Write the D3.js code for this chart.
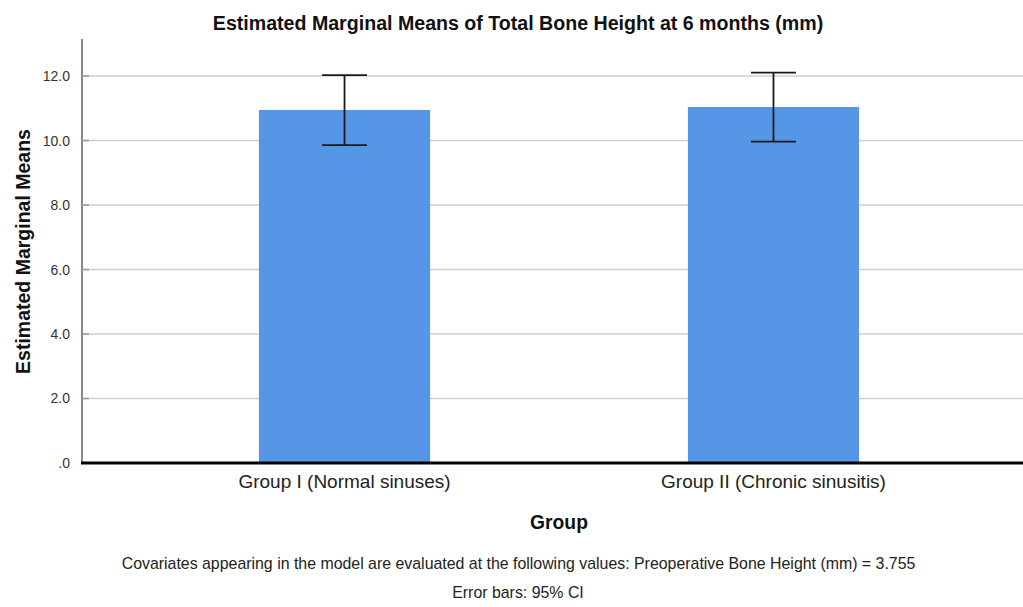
<!DOCTYPE html>
<html><head><meta charset="utf-8">
<script src="https://cdn.jsdelivr.net/npm/d3@7"></script>
<style>body{margin:0;background:#fff;} svg{display:block;font-family:"Liberation Sans",Arial,sans-serif;}</style>
</head><body>
<svg id="chart" width="1023" height="607"></svg>
<script>
const categories = ["Group I (Normal sinuses)", "Group II (Chronic sinusitis)"];
const means = [10.95, 11.04];
const ciLower = [9.86, 9.97];
const ciUpper = [12.03, 12.11];
const yTicks = [0, 2, 4, 6, 8, 10, 12];
const tickLabels = [".0", "2.0", "4.0", "6.0", "8.0", "10.0", "12.0"];

const svg = d3.select("#chart");
const x0 = 82, x1 = 1036, yTop = 39, yBottom = 463;
const y = d3.scaleLinear().domain([0, 13.15]).range([yBottom, yTop]);
const x = d3.scaleBand().domain(categories).range([x0, x1]).paddingInner(0.601).paddingOuter(0.4125);

// gridlines
svg.append("g").selectAll("line").data(yTicks.filter(d => d > 0)).join("line")
  .attr("x1", x0).attr("x2", 1023).attr("y1", d => y(d)).attr("y2", d => y(d))
  .attr("stroke", "#cfcfcf").attr("stroke-width", 1.5);

// y axis
const yAxis = d3.axisLeft(y).tickValues(yTicks).tickFormat((d, i) => tickLabels[i]).tickSize(0).tickPadding(12);
const ga = svg.append("g").attr("transform", `translate(${x0},0)`).call(yAxis);
ga.select(".domain").remove();
ga.selectAll("text").attr("font-size", 14).attr("fill", "#333").attr("font-family", "Liberation Sans, Arial, sans-serif");
svg.append("line").attr("x1", x0).attr("x2", x0).attr("y1", yTop).attr("y2", yBottom)
  .attr("stroke", "#8a8a8a").attr("stroke-width", 2);
// tick marks inside
svg.append("g").selectAll("line").data(yTicks.filter(d => d > 0)).join("line")
  .attr("x1", x0).attr("x2", x0 + 7).attr("y1", d => y(d)).attr("y2", d => y(d))
  .attr("stroke", "#999").attr("stroke-width", 1.5);

// bars
svg.append("g").selectAll("rect").data(categories).join("rect")
  .attr("x", d => x(d)).attr("width", x.bandwidth())
  .attr("y", (d, i) => y(means[i])).attr("height", (d, i) => y(0) - y(means[i]))
  .attr("fill", "#5596e6");

// error bars
const cap = 22.5;
const eb = svg.append("g").attr("stroke", "#1a1a1a").attr("stroke-width", 1.8);
categories.forEach((c, i) => {
  const cx = x(c) + x.bandwidth() / 2;
  eb.append("line").attr("x1", cx).attr("x2", cx).attr("y1", y(ciUpper[i])).attr("y2", y(ciLower[i]));
  eb.append("line").attr("x1", cx - cap).attr("x2", cx + cap).attr("y1", y(ciUpper[i])).attr("y2", y(ciUpper[i]));
  eb.append("line").attr("x1", cx - cap).attr("x2", cx + cap).attr("y1", y(ciLower[i])).attr("y2", y(ciLower[i]));
});

// x axis line
svg.append("line").attr("x1", x0 - 1).attr("x2", 1023).attr("y1", yBottom).attr("y2", yBottom)
  .attr("stroke", "#000").attr("stroke-width", 3);

// x axis labels
const xAxis = d3.axisBottom(x).tickSize(0).tickPadding(12);
const gx = svg.append("g").attr("transform", `translate(0,${yBottom})`).call(xAxis);
gx.select(".domain").remove();
gx.selectAll("text").attr("font-size", 19).attr("fill", "#222").attr("font-family", "Liberation Sans, Arial, sans-serif");

// titles
svg.append("text").attr("x", 518).attr("y", 30).attr("text-anchor", "middle")
  .attr("font-size", 19.6).attr("font-weight", "bold").attr("fill", "#111")
  .text("Estimated Marginal Means of Total Bone Height at 6 months (mm)");
svg.append("text").attr("transform", "translate(30,251.5) rotate(-90)").attr("text-anchor", "middle")
  .attr("font-size", 19.5).attr("font-weight", "bold").attr("fill", "#111")
  .text("Estimated Marginal Means");
svg.append("text").attr("x", 559).attr("y", 529).attr("text-anchor", "middle")
  .attr("font-size", 19.3).attr("font-weight", "bold").attr("fill", "#111").text("Group");
svg.append("text").attr("x", 518.5).attr("y", 569).attr("text-anchor", "middle")
  .attr("font-size", 15.9).attr("fill", "#222")
  .text("Covariates appearing in the model are evaluated at the following values: Preoperative Bone Height (mm) = 3.755");
svg.append("text").attr("x", 518).attr("y", 598).attr("text-anchor", "middle")
  .attr("font-size", 15.9).attr("fill", "#222").text("Error bars: 95% CI");
</script>
</body></html>
